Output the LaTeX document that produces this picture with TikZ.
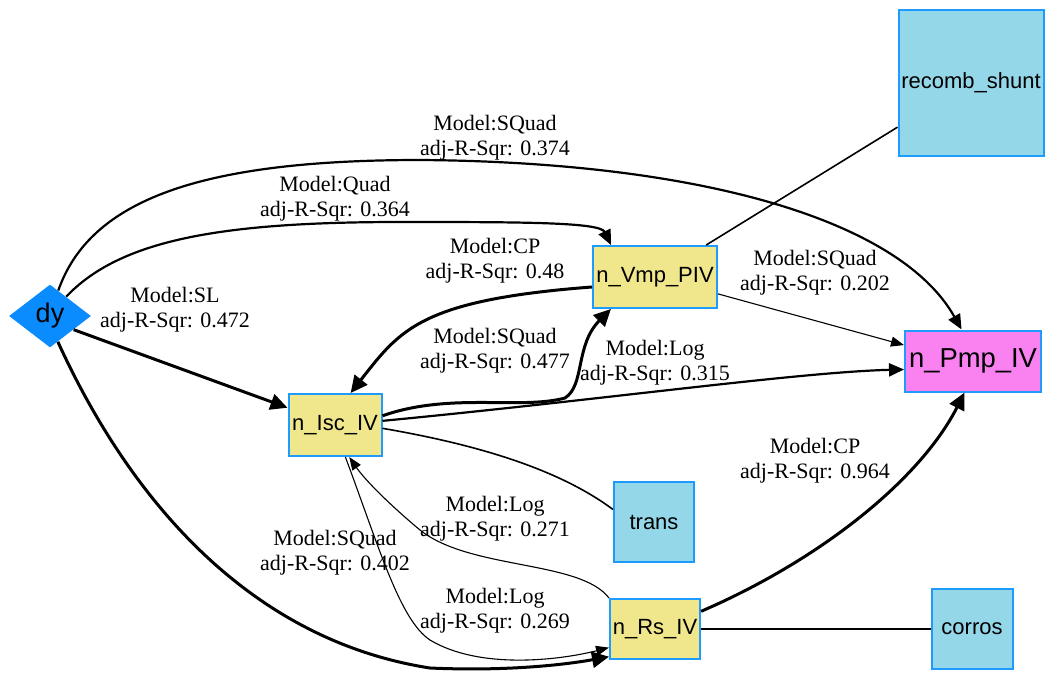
\documentclass[tikz,border=0pt]{standalone}
\usepackage{fontspec}
\setmainfont{Liberation Serif}
\newfontfamily\boxfont{Liberation Sans}
\usetikzlibrary{shapes.geometric,arrows.meta}
\definecolor{inputcolor}{RGB}{10,140,255}
\definecolor{paramcolor}{RGB}{240,230,140}
\definecolor{targetcolor}{RGB}{250,130,240}
\definecolor{factorcolor}{RGB}{148,215,232}
\definecolor{bordercolor}{RGB}{30,155,255}
\tikzstyle{every node} = [inner sep=0]
\tikzstyle{inputnode} = [diamond, fill=inputcolor, minimum width=41pt, minimum height=31.5pt, font=\boxfont\fontsize{13.5}{15}\selectfont]
\tikzstyle{paramnode} = [rectangle, draw=bordercolor, fill=paramcolor, line width=1pt, font=\boxfont\fontsize{11}{13}\selectfont]
\tikzstyle{targetnode} = [rectangle, draw=bordercolor, fill=targetcolor, line width=1pt, font=\boxfont\fontsize{13.7}{15}\selectfont]
\tikzstyle{factornode} = [rectangle, draw=bordercolor, fill=factorcolor, line width=1pt, font=\boxfont\fontsize{11}{13}\selectfont]
\tikzstyle{fitlabel} = [align=center, font=\fontsize{11}{12.5}\selectfont]
\tikzstyle{strong} = [-{Triangle[length=8.5pt,width=8pt]}, line width=1.5pt]
\tikzstyle{medium} = [-{Triangle[length=7.5pt,width=6.5pt]}, line width=1.1pt]
\tikzstyle{weak} = [-{Triangle[length=6.5pt,width=5pt]}, line width=0.55pt]
\tikzstyle{link} = [line width=0.8pt]

\begin{document}
\begin{tikzpicture}[x=0.5pt, y=-0.5pt]
	\useasboundingbox (0,0) rectangle (1047,681);
	
	% nodes
	\node[inputnode] (dy) at (50,316) {dy};
	\node[paramnode, minimum width=62pt, minimum height=31pt] (vmp) at (655,277) {n\_Vmp\_PIV};
	\node[paramnode, minimum width=46.5pt, minimum height=31pt] (isc) at (335,425) {n\_Isc\_IV};
	\node[paramnode, minimum width=45pt, minimum height=30pt] (rs) at (655,629) {n\_Rs\_IV};
	\node[targetnode, minimum width=68pt, minimum height=30.5pt] (pmp) at (973,361) {n\_Pmp\_IV};
	\node[factornode, minimum width=72.5pt, minimum height=73pt] (recomb) at (971,83) {recomb\_shunt};
	\node[factornode, minimum width=40pt, minimum height=40pt] (trans) at (654,522) {trans};
	\node[factornode, minimum width=40.5pt, minimum height=40pt] (corros) at (972,629) {corros};
	
	% fitted models
	\draw[medium] (dy.72) .. controls (90,200) and (200,160) .. (420,160) .. controls (700,162) and (900,220) .. (pmp.110);
	\draw[medium] (dy.50) .. controls (120,240) and (220,222) .. (400,222) .. controls (520,222) and (600,222) .. (vmp.144);
	\draw[strong] (dy.-30) -- (isc.160);
	\draw[strong] (dy.-73) .. controls (130,500) and (250,640) .. (430,668) .. controls (520,672) and (580,662) .. (rs.-149);
	\draw[strong] (vmp.189) .. controls (420,300) and (400,330) .. (isc.64);
	\draw[strong] (isc.11) .. controls (450,392) and (520,410) .. (565,398) .. controls (585,385) and (575,345) .. (vmp.-144);
	\draw[weak] (vmp.-15) -- (pmp.167);
	\draw[medium] (isc.5) .. controls (600,400) and (800,372) .. (pmp.-173);
	\draw[weak] (rs.north west) .. controls (580,560) and (470,570) .. (420,530) .. controls (390,505) and (365,480) .. (isc.-66);
	\draw[weak] (isc.-72) .. controls (380,550) and (400,620) .. (430,640) .. controls (480,670) and (560,660) .. (rs.-158);
	\draw[strong] (rs.21) .. controls (820,560) and (920,480) .. (pmp.-105);
	
	% plain links
	\draw[link] (isc.-4) .. controls (480,445) and (560,470) .. (trans.163);
	\draw[link] (vmp.32) -- (recomb.-149);
	\draw[link] (rs.east) -- (corros.west);
	
	% labels
	\node[fitlabel] (l374) at (495,138) {Model:SQuad\\adj-R-Sqr: 0.374};
	\node[fitlabel] (l364) at (335,199) {Model:Quad\\adj-R-Sqr: 0.364};
	\node[fitlabel] (l472) at (175,310) {Model:SL\\adj-R-Sqr: 0.472};
	\node[fitlabel] (l48) at (495,261) {Model:CP\\adj-R-Sqr: 0.48};
	\node[fitlabel] (l477) at (495,351) {Model:SQuad\\adj-R-Sqr: 0.477};
	\node[fitlabel] (l202) at (815,273) {Model:SQuad\\adj-R-Sqr: 0.202};
	\node[fitlabel] (l315) at (655,363) {Model:Log\\adj-R-Sqr: 0.315};
	\node[fitlabel] (l271) at (495,519) {Model:Log\\adj-R-Sqr: 0.271};
	\node[fitlabel] (l269) at (495,611) {Model:Log\\adj-R-Sqr: 0.269};
	\node[fitlabel] (l402) at (335,553) {Model:SQuad\\adj-R-Sqr: 0.402};
	\node[fitlabel] (l964) at (815,461) {Model:CP\\adj-R-Sqr: 0.964};
	
\end{tikzpicture}
\end{document}
